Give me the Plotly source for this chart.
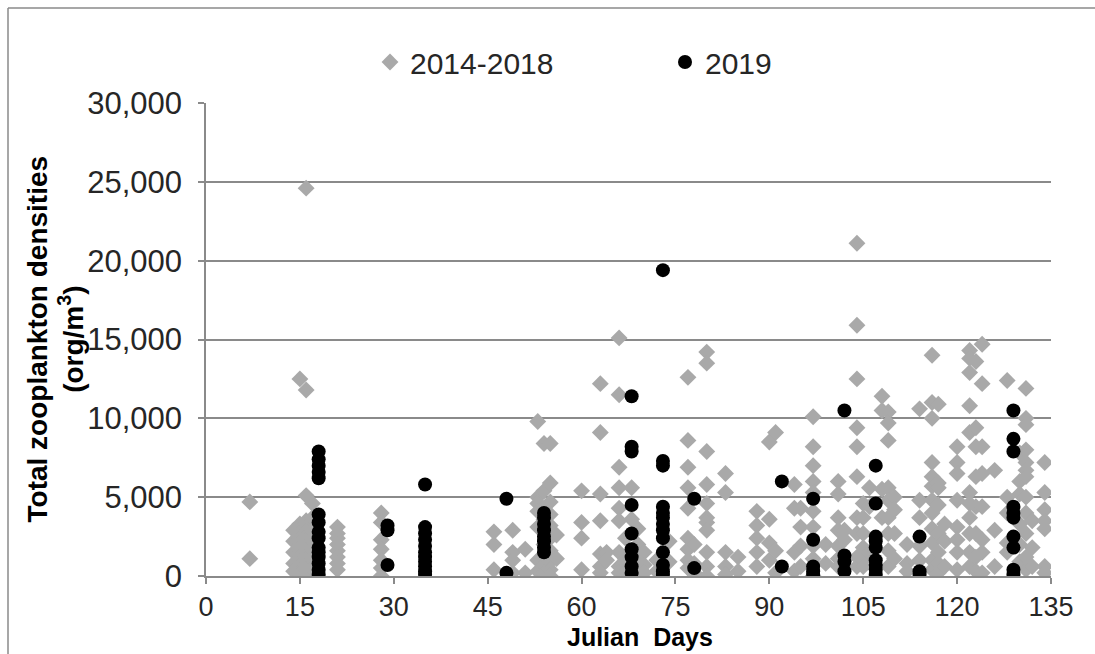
import plotly.graph_objects as go

# 2014-2018 densities (org/m3) by Julian day
hist_by_day = {
    7: [4700, 1100],
    14: [2900, 2200, 1500, 800, 300],
    15: [12500, 3300, 3000, 2700, 2400, 2100, 1800, 1500, 1200, 900, 600, 300, 100],
    16: [24600, 11800, 5100, 3500, 3100, 2800, 2500, 2200, 1900, 1600, 1300, 1000, 700, 400, 0],
    17: [4600, 3700, 2900, 2300, 1700, 1100, 500],
    21: [3100, 2700, 2400, 2000, 1600, 1200, 800, 400],
    28: [4000, 3400, 2300, 1700, 1000, 500, 0],
    46: [2800, 2000, 400],
    49: [2900, 1500, 1000, 200],
    51: [1700, 200],
    53: [9800, 5000, 4600, 4100, 3100, 1000, 300],
    54: [8400, 5400, 4300, 3600, 2800, 2000, 1300, 700, 200],
    55: [8400, 5900, 4700, 3900, 3200, 2400, 1600, 900, 400, 0],
    56: [2600, 1100],
    60: [5400, 3400, 2400, 400],
    63: [12200, 9100, 5200, 3500, 1400, 600, 200],
    64: [1500, 1000],
    66: [15100, 11500, 6900, 5600, 4300, 3500, 1500, 600, 200],
    67: [2400, 1100, 300],
    68: [5600, 3600, 1500, 600],
    69: [3000, 2000, 900, 300, 0],
    70: [1500, 700, 200],
    72: [1000, 300],
    74: [2200, 900],
    77: [12600, 8600, 6900, 5600, 4300, 2400, 1700, 1000, 500],
    78: [2000, 800, 200],
    80: [14200, 13500, 7900, 5800, 4600, 3700, 3400, 2900, 1500, 600, 0],
    83: [6500, 5300, 1500, 600, 100],
    85: [1200, 300],
    88: [4100, 3200, 2400, 1500, 600],
    90: [8500, 3600, 2100, 1000],
    91: [9100, 1600, 200],
    94: [5800, 4300, 1500, 300],
    95: [4300, 3100, 1900, 600],
    97: [10100, 8200, 7000, 6000, 5300, 4100, 3100, 1900, 1100, 0],
    99: [2000, 800],
    101: [6000, 5200, 3700, 2900, 1900, 1100, 600],
    102: [2900, 2300, 1000],
    104: [21100, 15900, 12500, 9400, 8200, 6300, 3700, 2700, 1200, 600],
    105: [4600, 3700, 2700, 1800, 1000, 600],
    106: [5600, 4400, 1500],
    108: [11400, 10500, 5500, 3700],
    109: [10400, 9700, 8600, 5600, 4800, 3700, 2700, 1600, 600],
    110: [5000, 4200, 2700, 1100],
    112: [2000, 800, 300],
    114: [10600, 4800, 3700, 1900, 1000],
    116: [14000, 11000, 10000, 7200, 6300, 5700, 4800, 4000, 3000, 2100, 1000, 400],
    117: [10900, 5900, 5600, 4500, 2700, 1500, 800, 200],
    118: [3300, 2200, 600],
    120: [8200, 7200, 6500, 4800, 3100, 2300, 1500, 400],
    122: [14300, 13800, 12900, 10800, 9100, 5300, 4600, 3700, 2700, 1500, 600],
    123: [13600, 9400, 8200, 6300, 4400, 2700, 1200, 300],
    124: [14700, 12200, 8200, 6500, 4400, 2300, 1500, 200],
    126: [6700, 2900, 600],
    128: [12400, 5000, 4000, 2100, 1500],
    130: [7800, 6000, 5200, 3300, 2000, 900],
    131: [11900, 10000, 9600, 8000, 7200, 6700, 6300, 5000, 4000, 2700, 1200, 400],
    132: [3500, 1800, 600],
    134: [7200, 5300, 4200, 3500, 3000, 600, 200],
}

# 2019 densities (org/m3) by Julian day
y2019_by_day = {
    18: [7900, 7400, 7000, 6600, 6200, 3900, 3400, 2800, 2400, 1800, 1500, 1200, 800, 400, 100],
    29: [3200, 2900, 700],
    35: [5800, 3100, 2700, 2300, 1900, 1500, 1200, 900, 600, 300, 100],
    48: [4900, 200],
    54: [4000, 3700, 3300, 2900, 2500, 2200, 1800, 1500],
    68: [11400, 8200, 7900, 4500, 2700, 1700, 1200, 600, 200],
    73: [19400, 7300, 7000, 4400, 4000, 3700, 3300, 2900, 2400, 1500, 700, 300, 100],
    78: [4900, 500],
    92: [6000, 600],
    97: [4900, 2300, 600, 300, 100],
    102: [10500, 1300, 900, 300],
    107: [7000, 4600, 2500, 2200, 1800, 1000, 700, 400, 100],
    114: [2500, 300, 100],
    129: [10500, 8700, 7900, 4400, 4000, 3700, 2500, 1800, 400, 100],
}

series_names = ["2014-2018", "2019"]
x_ticks = list(range(0, 136, 15))
y_ticks = list(range(0, 30001, 5000))


def flatten(d):
    xs, ys = [], []
    for day, vals in d.items():
        for v in vals:
            xs.append(day)
            ys.append(v)
    return xs, ys


hx, hy = flatten(hist_by_day)
bx, by = flatten(y2019_by_day)

FONT = "Liberation Sans, Arial, sans-serif"
fig = go.Figure()
fig.add_trace(go.Scatter(
    x=hx, y=hy, mode="markers", name=series_names[0],
    marker=dict(symbol="diamond", size=13, color="#A9A9A9"),
))
fig.add_trace(go.Scatter(
    x=bx, y=by, mode="markers", name=series_names[1],
    marker=dict(symbol="circle", size=14, color="#000000"),
))

L, R, T, B = 206, 44, 103, 78
W, H = 1095, 654
pw, ph = W - L - R, H - T - B

fig.update_layout(
    width=W, height=H,
    margin=dict(l=L, r=R, t=T, b=B),
    paper_bgcolor="white", plot_bgcolor="white",
    font=dict(family=FONT, color="#262626"),
    showlegend=True,
    legend=dict(
        orientation="h", x=(370 - L) / pw, y=(T + ph - 62) / ph,
        xanchor="left", yanchor="middle",
        font=dict(size=30, family=FONT, color="#262626"),
        entrywidth=250, itemwidth=30, bgcolor="rgba(0,0,0,0)",
    ),
    xaxis=dict(
        range=[0, 135], tickvals=x_ticks, ticktext=[str(v) for v in x_ticks],
        showgrid=False, zeroline=False,
        showline=True, linecolor="#8A8A8A", linewidth=1.5,
        ticks="outside", ticklen=6, tickcolor="#8A8A8A", tickwidth=1.5,
        tickfont=dict(size=27, family=FONT, color="#262626"),
    ),
    yaxis=dict(
        range=[0, 30000], tickvals=y_ticks, tickformat=",",
        showgrid=True, gridcolor="#8A8A8A", gridwidth=1.5, zeroline=False,
        showline=True, linecolor="#8A8A8A", linewidth=1.5,
        ticks="outside", ticklen=6, tickcolor="#8A8A8A", tickwidth=1.5,
        ticklabelstandoff=10,
        tickfont=dict(size=31, family=FONT, color="#262626"),
    ),
    annotations=[
        dict(
            text="<b>Total zooplankton densities</b><br><b>(org/m<sup>3</sup>)</b>",
            xref="paper", yref="paper", x=(55 - L) / pw, y=0.5,
            xanchor="center", yanchor="middle", textangle=-90, showarrow=False,
            font=dict(size=28, family=FONT, color="#000000"),
        ),
        dict(
            text="<b>Julian  Days</b>",
            xref="paper", yref="paper", x=(640 - L) / pw, y=(T + ph - 637) / ph,
            xanchor="center", yanchor="middle", showarrow=False,
            font=dict(size=25, family=FONT, color="#000000"),
        ),
    ],
    shapes=[
        dict(type="line", xref="paper", yref="paper",
             x0=(8 - L) / pw, x1=(W + 20 - L) / pw, y0=(T + ph - 8) / ph, y1=(T + ph - 8) / ph,
             line=dict(color="#8A8A8A", width=1.5)),
        dict(type="line", xref="paper", yref="paper",
             x0=(8 - L) / pw, x1=(8 - L) / pw, y0=(T + ph - 8) / ph, y1=-0.3,
             line=dict(color="#8A8A8A", width=1.5)),
    ],
)

fig.write_html("out.html")
